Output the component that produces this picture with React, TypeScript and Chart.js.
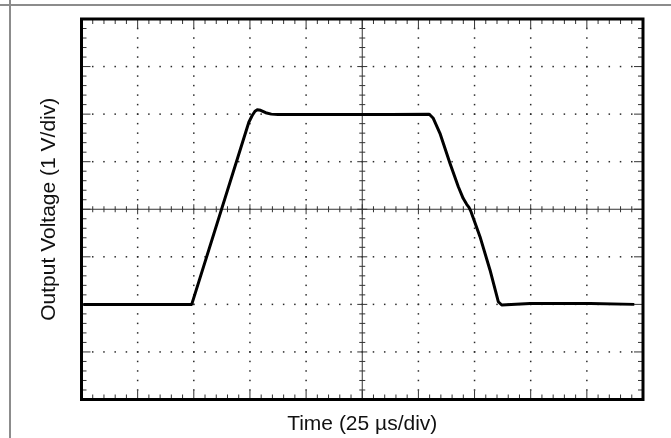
import { useEffect, useRef } from 'react';
import { Chart, registerables } from 'chart.js';

Chart.register(...registerables);

// Time axis in divisions (25 µs/div), 10 divisions
const xDivisions = [0, 1, 2, 3, 4, 5, 6, 7, 8, 9, 10];
// Voltage axis in volts (1 V/div), 8 divisions centred on 0
const yDivisions = [-4, -3, -2, -1, 0, 1, 2, 3, 4];
const minorPerDiv = 5;

const xTitle = 'Time (25 µs/div)';
const yTitle = 'Output Voltage (1 V/div)';

// Trace samples
const timeDiv = [
  0.03, 1.963, 2.98, 3.04, 3.09, 3.13, 3.19, 3.28, 3.38, 3.5,
  4.5, 5.5, 6.194, 6.265, 6.384, 6.562, 6.711, 6.797, 6.86, 6.901, 6.937, 6.99,
  7.097, 7.275, 7.423, 7.484, 7.99, 9.06, 9.845,
];
const voltage = [
  -2.0, -2.0, 1.83, 1.97, 2.06, 2.09, 2.08, 2.03, 2.0, 1.99,
  1.99, 1.99, 1.996, 1.912, 1.597, 0.966, 0.474, 0.23, 0.104, 0.041, -0.052, -0.226,
  -0.577, -1.277, -1.944, -2.013, -1.98, -1.98, -2.0,
];

const FONT = '"Liberation Sans", Arial, Helvetica, sans-serif';

const graticule = {
  id: 'graticule',
  beforeDatasetsDraw(chart: any) {
    const { ctx, chartArea: a, scales } = chart;
    const xs = scales.x;
    const ys = scales.y;
    const xMin = xDivisions[0];
    const xMax = xDivisions[xDivisions.length - 1];
    const yMin = yDivisions[0];
    const yMax = yDivisions[yDivisions.length - 1];
    const xCenter = (xMin + xMax) / 2;
    const yCenter = (yMin + yMax) / 2;
    const xMinorVals: { v: number; major: boolean }[] = [];
    for (let i = 0; i < xDivisions.length - 1; i++) {
      for (let k = 0; k < minorPerDiv; k++) {
        xMinorVals.push({ v: xDivisions[i] + (k * (xDivisions[i + 1] - xDivisions[i])) / minorPerDiv, major: k === 0 });
      }
    }
    xMinorVals.push({ v: xMax, major: true });
    const yMinorVals: { v: number; major: boolean }[] = [];
    for (let i = 0; i < yDivisions.length - 1; i++) {
      for (let k = 0; k < minorPerDiv; k++) {
        yMinorVals.push({ v: yDivisions[i] + (k * (yDivisions[i + 1] - yDivisions[i])) / minorPerDiv, major: k === 0 });
      }
    }
    yMinorVals.push({ v: yMax, major: true });

    ctx.save();
    // dotted grid
    ctx.fillStyle = '#2a2a2a';
    const d = 1.5;
    for (const gx of xDivisions) {
      if (gx === xMin || gx === xMax || gx === xCenter) continue;
      const px = xs.getPixelForValue(gx);
      for (const m of yMinorVals) {
        if (m.v === yMin || m.v === yMax) continue;
        const py = ys.getPixelForValue(m.v);
        ctx.fillRect(px - d / 2, py - d / 2, d, d);
      }
    }
    for (const gy of yDivisions) {
      if (gy === yMin || gy === yMax || gy === yCenter) continue;
      const py = ys.getPixelForValue(gy);
      for (const m of xMinorVals) {
        if (m.v === xMin || m.v === xMax) continue;
        const px = xs.getPixelForValue(m.v);
        ctx.fillRect(px - d / 2, py - d / 2, d, d);
      }
    }

    // centre axes with ticks
    ctx.strokeStyle = '#333';
    ctx.lineWidth = 1;
    const cx = xs.getPixelForValue(xCenter);
    const cy = ys.getPixelForValue(yCenter);
    ctx.beginPath();
    ctx.moveTo(a.left, cy);
    ctx.lineTo(a.right, cy);
    ctx.moveTo(cx, a.top);
    ctx.lineTo(cx, a.bottom);
    for (const m of xMinorVals) {
      if (m.v === xMin || m.v === xMax) continue;
      const px = xs.getPixelForValue(m.v);
      const h = m.major ? 5 : 3;
      ctx.moveTo(px, cy - h);
      ctx.lineTo(px, cy + h);
    }
    for (const m of yMinorVals) {
      if (m.v === yMin || m.v === yMax) continue;
      const py = ys.getPixelForValue(m.v);
      const h = m.major ? 5 : 3;
      ctx.moveTo(cx - h, py);
      ctx.lineTo(cx + h, py);
    }
    ctx.stroke();

    // border ticks (inward)
    ctx.beginPath();
    for (const m of xMinorVals) {
      if (m.v === xMin || m.v === xMax) continue;
      const px = xs.getPixelForValue(m.v);
      const h = m.major ? 9 : 5;
      ctx.moveTo(px, a.bottom);
      ctx.lineTo(px, a.bottom - h);
      ctx.moveTo(px, a.top);
      ctx.lineTo(px, a.top + h);
    }
    for (const m of yMinorVals) {
      if (m.v === yMin || m.v === yMax) continue;
      const py = ys.getPixelForValue(m.v);
      const h = m.major ? 9 : 5;
      ctx.moveTo(a.left, py);
      ctx.lineTo(a.left + h, py);
      ctx.moveTo(a.right, py);
      ctx.lineTo(a.right - h, py);
    }
    ctx.stroke();
    ctx.restore();
  },
  afterDatasetsDraw(chart: any) {
    const { ctx, chartArea: a } = chart;
    ctx.save();
    ctx.strokeStyle = '#000';
    ctx.lineWidth = 3;
    ctx.strokeRect(a.left, a.top, a.right - a.left, a.bottom - a.top);
    ctx.restore();
  },
};

export default function App() {
  const ref = useRef<HTMLCanvasElement>(null);

  useEffect(() => {
    const points = timeDiv.map((t, i) => ({ x: t, y: voltage[i] }));
    const chart = new Chart(ref.current as HTMLCanvasElement, {
      type: 'line',
      data: {
        datasets: [
          {
            data: points,
            borderColor: '#000',
            borderWidth: 3,
            pointRadius: 0,
            tension: 0,
            borderJoinStyle: 'round',
            fill: false,
          },
        ],
      },
      options: {
        animation: false,
        responsive: false,
        devicePixelRatio: 1,
        events: [],
        layout: { padding: { left: 0, top: 19, right: 28, bottom: 0 } },
        plugins: { legend: { display: false }, tooltip: { enabled: false } },
        scales: {
          x: {
            type: 'linear',
            min: xDivisions[0],
            max: xDivisions[xDivisions.length - 1],
            ticks: { display: false },
            grid: { display: false },
            border: { display: false },
            title: {
              display: true,
              text: xTitle,
              color: '#111',
              font: { family: FONT, size: 21, lineHeight: 1 },
              padding: { top: 0, bottom: 3.5 },
            },
            afterFit: (s: any) => {
              s.height = 38.5;
            },
          },
          y: {
            type: 'linear',
            min: yDivisions[0],
            max: yDivisions[yDivisions.length - 1],
            ticks: { display: false },
            grid: { display: false },
            border: { display: false },
            title: {
              display: true,
              text: yTitle,
              color: '#111',
              font: { family: FONT, size: 21, lineHeight: 1 },
              padding: { top: 38.5, bottom: 0 },
            },
            afterFit: (s: any) => {
              s.width = 81.5;
            },
          },
        },
      },
      plugins: [graticule],
    });
    return () => chart.destroy();
  }, []);

  return (
    <div style={{ position: 'fixed', left: 0, top: 0, width: 671, height: 438, background: '#fff', overflow: 'hidden' }}>
      <div style={{ position: 'absolute', left: 0, top: 4, width: 671, height: 2, background: '#8c8c8c' }} />
      <div style={{ position: 'absolute', left: 9, top: 0, width: 2, height: 438, background: '#8c8c8c' }} />
      <canvas ref={ref} width={671} height={438} style={{ position: 'absolute', left: 0, top: 0, width: 671, height: 438 }} />
    </div>
  );
}
